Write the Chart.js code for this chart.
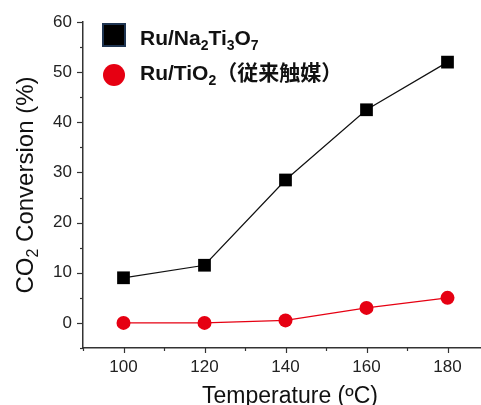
<!DOCTYPE html>
<html>
<head>
<meta charset="utf-8">
<script src="https://cdn.jsdelivr.net/npm/chart.js@4.4.0/dist/chart.umd.min.js"></script>
<style>
  html, body { margin: 0; padding: 0; background: #fff; overflow: hidden; }
  #chart { display: block; }
</style>
</head>
<body>
<canvas id="chart" width="497" height="405"></canvas>
<script>
// data
const temps = [100, 120, 140, 160, 180];
const naTiValues = [9, 11.5, 28.5, 42.5, 52];
const tio2Values = [0, 0, 0.5, 3, 5];
const xTickLabels = [100, 120, 140, 160, 180];
const yTickLabels = [0, 10, 20, 30, 40, 50, 60];
// "_x" means x is a subscript
const seriesNames = ['Ru/Na_2Ti_3O_7', 'Ru/TiO_2（従来触媒）'];
const xTitle = 'Temperature (ºC)';
const yTitle = 'CO_2 Conversion (%)';

const FONT = '"Liberation Sans", Arial, "Noto Sans CJK JP", sans-serif';
const RED = '#e60012';
const AXIS = '#333';

function parseRich(text) {
    const parts = [];
    for (let i = 0; i < text.length; i++) {
        if (text[i] === '_' && i + 1 < text.length) {
            parts.push({ t: text[i + 1], sub: true });
            i++;
        } else {
            const last = parts[parts.length - 1];
            if (last && !last.sub) last.t += text[i];
            else parts.push({ t: text[i], sub: false });
        }
    }
    return parts;
}

function drawRich(ctx, text, x, y, size, weight, align) {
    const parts = parseRich(text);
    const font = (s) => `${weight} ${s}px ${FONT}`;
    let total = 0;
    parts.forEach(p => {
        ctx.font = font(p.sub ? Math.round(size * 0.65) : size);
        p.w = ctx.measureText(p.t).width;
        total += p.w;
    });
    let cx = align === 'center' ? x - total / 2 : x;
    ctx.textAlign = 'left';
    ctx.textBaseline = 'alphabetic';
    parts.forEach(p => {
        ctx.font = font(p.sub ? Math.round(size * 0.65) : size);
        ctx.fillText(p.t, cx, p.sub ? y + size * 0.22 : y);
        cx += p.w;
    });
}

const decorPlugin = {
    id: 'decor',
    afterDraw(chart) {
        const ctx = chart.ctx;
        const xs = chart.scales.x, ys = chart.scales.y;
        const area = chart.chartArea;
        ctx.save();
        ctx.strokeStyle = AXIS;
        ctx.lineWidth = 1.2;
        // x ticks (major every 20, minor every 10)
        for (let v = xs.min; v <= xs.max; v += 10) {
            const px = Math.round(xs.getPixelForValue(v)) + 0.5;
            const len = v % 20 === 0 ? 5 : 3;
            ctx.beginPath();
            ctx.moveTo(px, area.bottom);
            ctx.lineTo(px, area.bottom + len);
            ctx.stroke();
        }
        // y ticks (major every 10, minor every 5)
        for (let v = ys.min; v <= ys.max; v += 5) {
            const py = Math.round(ys.getPixelForValue(v)) + 0.5;
            const len = v % 10 === 0 ? 6 : 3;
            ctx.beginPath();
            ctx.moveTo(area.left, py);
            ctx.lineTo(area.left - len, py);
            ctx.stroke();
        }
        ctx.fillStyle = '#111';
        // axis titles
        drawRich(ctx, xTitle, 290, 403, 23, 'normal', 'center');
        ctx.save();
        ctx.translate(33, (ys.getPixelForValue(60) + ys.getPixelForValue(-5)) / 2);
        ctx.rotate(-Math.PI / 2);
        drawRich(ctx, yTitle, 0, 0, 24, 'normal', 'center');
        ctx.restore();

        // legend
        const lx = area.left + 31, ly = area.top + 13;
        ctx.fillStyle = '#000';
        ctx.fillRect(lx - 11, ly - 11, 22, 22);
        ctx.strokeStyle = '#1f3552';
        ctx.lineWidth = 2;
        ctx.strokeRect(lx - 11, ly - 11, 22, 22);
        ctx.fillStyle = RED;
        ctx.beginPath();
        ctx.arc(lx, ly + 40, 11, 0, Math.PI * 2);
        ctx.fill();
        ctx.fillStyle = '#111';
        drawRich(ctx, seriesNames[0], lx + 26, ly + 10, 21, 'bold', 'left');
        drawRich(ctx, seriesNames[1], lx + 26, ly + 45, 21, 'bold', 'left');
        ctx.restore();
    }
};

new Chart(document.getElementById('chart'), {
    type: 'line',
    data: {
        datasets: [
            {
                label: seriesNames[0],
                data: temps.map((t, i) => ({ x: t, y: naTiValues[i] })),
                borderColor: '#111',
                borderWidth: 1.2,
                backgroundColor: '#000',
                pointStyle: 'rect',
                pointRadius: 9,
                pointBorderWidth: 0,
                pointBackgroundColor: '#000',
                tension: 0
            },
            {
                label: seriesNames[1],
                data: temps.map((t, i) => ({ x: t, y: tio2Values[i] })),
                borderColor: RED,
                borderWidth: 1.2,
                backgroundColor: RED,
                pointStyle: 'circle',
                pointRadius: 7,
                pointBorderWidth: 0,
                pointBackgroundColor: RED,
                tension: 0
            }
        ]
    },
    options: {
        responsive: false,
        animation: false,
        devicePixelRatio: 1,
        clip: false,
        layout: { padding: { top: 22, right: 2, left: 0, bottom: 0 } },
        plugins: { legend: { display: false }, tooltip: { enabled: false } },
        scales: {
            x: {
                type: 'linear',
                min: 90,
                max: 190,
                afterFit: (s) => { s.height = 57; },
                grid: { display: false, drawTicks: false },
                border: { display: true, color: AXIS, width: 1.5 },
                ticks: {
                    stepSize: 10,
                    padding: 9,
                    maxRotation: 0,
                    autoSkip: false,
                    color: '#222',
                    font: { family: FONT, size: 17 },
                    callback: (v) => xTickLabels.includes(v) ? String(v) : ''
                }
            },
            y: {
                min: -5,
                max: 60,
                afterFit: (s) => { s.width = 83; },
                grid: { display: false, drawTicks: false },
                border: { display: true, color: AXIS, width: 1.5 },
                ticks: {
                    stepSize: 5,
                    padding: 11,
                    autoSkip: false,
                    color: '#222',
                    font: { family: FONT, size: 17 },
                    callback: (v) => yTickLabels.includes(v) ? String(v) : ''
                }
            }
        }
    },
    plugins: [decorPlugin]
});
</script>
</body>
</html>
